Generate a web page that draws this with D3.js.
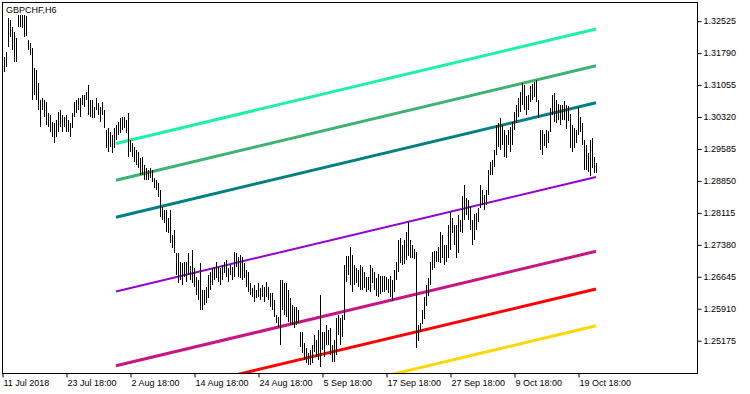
<!DOCTYPE html>
<html>
<head>
<meta charset="utf-8">
<script src="https://cdn.jsdelivr.net/npm/d3@7"></script>
<style>
  body { margin: 0; background: #fff; }
  svg { display: block; font-family: "Liberation Sans", Arial, sans-serif; font-size: 9px; }
</style>
</head>
<body>
<div id="chart"></div>
<script>
var symbol = "GBPCHF,H6";

// H6 bars, high / low, oldest first
var highs = [
  1.31689, 1.31804, 1.32586, 1.32540, 1.32379, 1.32264, 1.32126, 1.32655, 1.32655, 1.32655,
  1.32655, 1.32632, 1.32080, 1.32011, 1.31896, 1.31436, 1.31390, 1.31091, 1.30700, 1.30746,
  1.30700, 1.30654, 1.30401, 1.30355, 1.30194, 1.30171, 1.30240, 1.30424, 1.30470, 1.30355,
  1.30309, 1.30355, 1.30240, 1.30171, 1.30401, 1.30654, 1.30700, 1.30746, 1.30746, 1.30815,
  1.30815, 1.30884, 1.31045, 1.30700, 1.30700, 1.30539, 1.30746, 1.30631, 1.30539, 1.30654,
  1.30470, 1.30010, 1.30056, 1.29964, 1.29895, 1.30056, 1.30125, 1.30194, 1.30286, 1.30309,
  1.30309, 1.30240, 1.30401, 1.29780, 1.29711, 1.29619, 1.29550, 1.29504, 1.29366, 1.29389,
  1.29205, 1.29136, 1.29090, 1.29136, 1.29090, 1.28906, 1.28860, 1.28791, 1.28630, 1.28239,
  1.28170, 1.28170, 1.27986, 1.28170, 1.27595, 1.27710, 1.27181, 1.27181, 1.26974, 1.26951,
  1.26974, 1.26974, 1.27181, 1.26882, 1.27250, 1.26836, 1.26629, 1.26560, 1.26951, 1.26330,
  1.26330, 1.26399, 1.26675, 1.26744, 1.26836, 1.26859, 1.26974, 1.26859, 1.26836, 1.26905,
  1.26974, 1.27020, 1.26836, 1.26905, 1.26859, 1.27204, 1.27181, 1.27089, 1.27135, 1.27089,
  1.26951, 1.26790, 1.26744, 1.26491, 1.26376, 1.26445, 1.26330, 1.26491, 1.26376, 1.26445,
  1.26399, 1.26514, 1.26399, 1.26261, 1.26261, 1.26100, 1.25755, 1.25709, 1.26560, 1.26560,
  1.26491, 1.26491, 1.26330, 1.26146, 1.25985, 1.25939, 1.25939, 1.25870, 1.25364, 1.25364,
  1.25111, 1.24996, 1.24881, 1.24950, 1.25065, 1.25295, 1.25180, 1.25410, 1.26215, 1.25364,
  1.25364, 1.25525, 1.25410, 1.25456, 1.25065, 1.25180, 1.25686, 1.25755, 1.25686, 1.25755,
  1.26905, 1.27112, 1.27112, 1.27319, 1.27135, 1.26905, 1.26836, 1.26790, 1.26905, 1.26859,
  1.26744, 1.26629, 1.26629, 1.26905, 1.26836, 1.26744, 1.26606, 1.26698, 1.26652, 1.26652,
  1.26652, 1.26629, 1.26583, 1.26652, 1.26560, 1.26790, 1.26974, 1.27480, 1.27526, 1.27365,
  1.27480, 1.27664, 1.27894, 1.27480, 1.27365, 1.27273, 1.27204, 1.25525, 1.25571, 1.25870,
  1.26169, 1.26445, 1.26606, 1.26974, 1.27204, 1.27227, 1.27227, 1.27319, 1.27664, 1.27595,
  1.27365, 1.27365, 1.27825, 1.28124, 1.27986, 1.27825, 1.27825, 1.28055, 1.27940, 1.28492,
  1.28745, 1.28446, 1.28400, 1.28262, 1.27940, 1.28078, 1.28101, 1.28216, 1.28745, 1.28630,
  1.28515, 1.28630, 1.29090, 1.29274, 1.29320, 1.29550, 1.30125, 1.30171, 1.30286, 1.30125,
  1.30010, 1.29895, 1.30010, 1.30079, 1.30194, 1.30424, 1.30585, 1.30746, 1.30884, 1.31091,
  1.31045, 1.30792, 1.30815, 1.31022, 1.31068, 1.31114, 1.31160, 1.30700, 1.30010, 1.30010,
  1.29918, 1.30010, 1.29987, 1.30516, 1.30815, 1.30861, 1.30700, 1.30608, 1.30585, 1.30585,
  1.30677, 1.30585, 1.30562, 1.30378, 1.30125, 1.30056, 1.30010, 1.30539, 1.30309, 1.30171,
  1.29780, 1.29665, 1.29481, 1.29780, 1.29826, 1.29389, 1.29251
];
var lows = [
  1.31344, 1.31459, 1.31919, 1.32149, 1.31850, 1.31574, 1.31574, 1.32379, 1.32379, 1.32356,
  1.32149, 1.32172, 1.31850, 1.31735, 1.30700, 1.30815, 1.30700, 1.30470, 1.30079, 1.30470,
  1.30309, 1.30125, 1.30079, 1.29964, 1.29849, 1.29711, 1.29849, 1.29964, 1.30079, 1.29964,
  1.30079, 1.29964, 1.29964, 1.29849, 1.30056, 1.30309, 1.30401, 1.30470, 1.30309, 1.30585,
  1.30539, 1.30700, 1.30355, 1.30309, 1.30286, 1.30286, 1.30470, 1.30355, 1.30194, 1.30355,
  1.30056, 1.29596, 1.29504, 1.29619, 1.29481, 1.29596, 1.29780, 1.29895, 1.29941, 1.30010,
  1.30056, 1.29941, 1.29389, 1.29504, 1.29389, 1.29274, 1.29205, 1.29136, 1.28975, 1.28975,
  1.28860, 1.28860, 1.28860, 1.28906, 1.28814, 1.28676, 1.28630, 1.28469, 1.28009, 1.27940,
  1.27871, 1.27664, 1.27641, 1.27411, 1.27296, 1.27181, 1.26675, 1.26491, 1.26560, 1.26445,
  1.26629, 1.26514, 1.26675, 1.26560, 1.26491, 1.26399, 1.26215, 1.26100, 1.25870, 1.25870,
  1.25985, 1.26031, 1.26146, 1.26330, 1.26445, 1.26560, 1.26606, 1.26514, 1.26445, 1.26560,
  1.26721, 1.26629, 1.26514, 1.26675, 1.26560, 1.26629, 1.26859, 1.26629, 1.26606, 1.26560,
  1.26606, 1.26399, 1.26284, 1.26215, 1.26169, 1.26054, 1.26146, 1.26169, 1.26100, 1.26169,
  1.26054, 1.26169, 1.26100, 1.25939, 1.25870, 1.25709, 1.25571, 1.25479, 1.25065, 1.25870,
  1.25755, 1.25709, 1.25594, 1.25525, 1.25525, 1.25456, 1.25525, 1.25571, 1.25019, 1.24881,
  1.24720, 1.24651, 1.24605, 1.24605, 1.24651, 1.24904, 1.24789, 1.24720, 1.24559, 1.24950,
  1.24789, 1.25065, 1.25065, 1.24835, 1.24674, 1.24674, 1.24835, 1.25295, 1.25065, 1.25249,
  1.25640, 1.26514, 1.26675, 1.26445, 1.26284, 1.26445, 1.26491, 1.26399, 1.26330, 1.26330,
  1.26376, 1.26284, 1.26330, 1.26284, 1.26491, 1.26330, 1.26192, 1.26169, 1.26238, 1.26284,
  1.26284, 1.26330, 1.26261, 1.26169, 1.26077, 1.26284, 1.26560, 1.26744, 1.26951, 1.26905,
  1.26928, 1.27020, 1.27112, 1.27066, 1.27066, 1.27043, 1.24996, 1.25157, 1.25364, 1.25548,
  1.25663, 1.25962, 1.26192, 1.26445, 1.26790, 1.26836, 1.26974, 1.26974, 1.26951, 1.27066,
  1.26905, 1.26974, 1.27066, 1.27250, 1.27641, 1.27365, 1.27066, 1.27181, 1.27664, 1.27641,
  1.27940, 1.28055, 1.27940, 1.27710, 1.27365, 1.27480, 1.27710, 1.27894, 1.28216, 1.28285,
  1.28170, 1.28285, 1.28515, 1.28975, 1.28975, 1.29159, 1.29435, 1.29619, 1.29550, 1.29665,
  1.29389, 1.29366, 1.29665, 1.29504, 1.29665, 1.30010, 1.30171, 1.30309, 1.30424, 1.30585,
  1.30470, 1.30355, 1.30470, 1.30654, 1.30700, 1.30769, 1.30654, 1.30286, 1.29550, 1.29435,
  1.29642, 1.29596, 1.29711, 1.29964, 1.30355, 1.30194, 1.30171, 1.30240, 1.30125, 1.30240,
  1.30240, 1.30033, 1.30217, 1.29596, 1.29504, 1.29596, 1.29711, 1.29895, 1.29964, 1.29665,
  1.29090, 1.29090, 1.29044, 1.28952, 1.29136, 1.29021, 1.29021
];

// time axis: bar index of each label (0 = left edge of the window)
var timeTickIndex = [0, 32, 64, 96, 128, 160, 192, 224, 256, 288];
var timeTickLabels = ["11 Jul 2018", "23 Jul 18:00", "2 Aug 18:00", "14 Aug 18:00", "24 Aug 18:00",
  "5 Sep 18:00", "17 Sep 18:00", "27 Sep 18:00", "9 Oct 18:00", "19 Oct 18:00"];
var priceTicks = [1.25175, 1.25910, 1.26645, 1.27380, 1.28115, 1.28850, 1.29585, 1.30320, 1.31055, 1.31790, 1.32525];

// channel lines: first / last bar and the price at each end
var channelFrom = 57, channelTo = 297;
var channelStart = [1.29700, 1.28855, 1.28004, 1.26296, 1.24587, 1.23720, 1.22875];
var channelEnd   = [1.32333, 1.31489, 1.30638, 1.28929, 1.27220, 1.26353, 1.25509];
var channelColors = ["#1EF0A8", "#3CB371", "#008080", "#9400D3", "#C71585", "#FF0000", "#FFD700"];
var channelWidths = [3, 3, 3, 2, 3, 3, 3];

var W = 750, H = 394;
var margin = { left: 2, right: 697, top: 2, bottom: 373 };

var svg = d3.select("#chart").append("svg")
    .attr("width", W)
    .attr("height", H);

var x = d3.scaleLinear().domain([0, 347.5]).range([margin.left, margin.right]);
var y = d3.scaleLinear().domain([1.24421, 1.32954]).range([margin.bottom, margin.top]);

svg.append("clipPath").attr("id", "plot")
  .append("rect")
    .attr("x", margin.left + 1).attr("y", margin.top + 1)
    .attr("width", margin.right - margin.left - 1).attr("height", margin.bottom - margin.top - 1);

var plot = svg.append("g").attr("clip-path", "url(#plot)");

// channel lines
var lines = channelStart.map(function (s, i) {
    return { s: s, e: channelEnd[i], color: channelColors[i], w: channelWidths[i] };
});
plot.selectAll(".channel")
    .data(lines)
    .enter().append("line")
    .attr("class", "channel")
    .attr("x1", x(channelFrom))
    .attr("x2", x(channelTo))
    .attr("y1", function (d) { return y(d.s); })
    .attr("y2", function (d) { return y(d.e); })
    .attr("stroke", function (d) { return d.color; })
    .attr("stroke-width", function (d) { return d.w; });

// bars
var bars = highs.map(function (h, i) { return { i: i + 1, h: h, l: lows[i] }; });
plot.selectAll(".bar")
    .data(bars)
    .enter().append("rect")
    .attr("class", "bar")
    .attr("shape-rendering", "crispEdges")
    .attr("x", function (d) { return x(d.i); })
    .attr("y", function (d) { return Math.round(y(d.h)); })
    .attr("width", 1)
    .attr("height", function (d) { return Math.max(1, Math.round(y(d.l)) - Math.round(y(d.h))); })
    .attr("fill", "#000");

// frame
svg.append("rect")
    .attr("x", margin.left + 0.5).attr("y", margin.top + 0.5)
    .attr("width", margin.right - margin.left).attr("height", margin.bottom - margin.top)
    .attr("fill", "none")
    .attr("stroke", "#000");

// price axis
var yAxis = svg.append("g")
    .attr("transform", "translate(" + (margin.right + 0.5) + ",0)")
    .call(d3.axisRight(y).tickValues(priceTicks).tickSize(4).tickPadding(2).tickFormat(d3.format(".5f")));
yAxis.select(".domain").remove();
yAxis.selectAll("line").attr("transform", "translate(0,0.5)");
yAxis.selectAll("text").attr("font-size", 9).attr("font-family", "Liberation Sans, Arial, sans-serif").attr("fill", "#000");

// time axis
var xAxis = svg.append("g")
    .attr("transform", "translate(0," + (margin.bottom + 0.5) + ")")
    .call(d3.axisBottom(x).tickValues(timeTickIndex).tickSize(4).tickFormat(function (d, i) { return timeTickLabels[i]; }));
xAxis.select(".domain").remove();
xAxis.selectAll("line").attr("transform", "translate(0.5,0)");
xAxis.selectAll("text")
    .attr("text-anchor", "start")
    .attr("x", 1)
    .attr("y", 12)
    .attr("dy", 0)
    .attr("font-size", 9)
    .attr("font-family", "Liberation Sans, Arial, sans-serif")
    .attr("fill", "#000");

// symbol caption
svg.append("text")
    .attr("x", 6)
    .attr("y", 12.5)
    .attr("font-size", 9)
    .text(symbol);
</script>
</body>
</html>
